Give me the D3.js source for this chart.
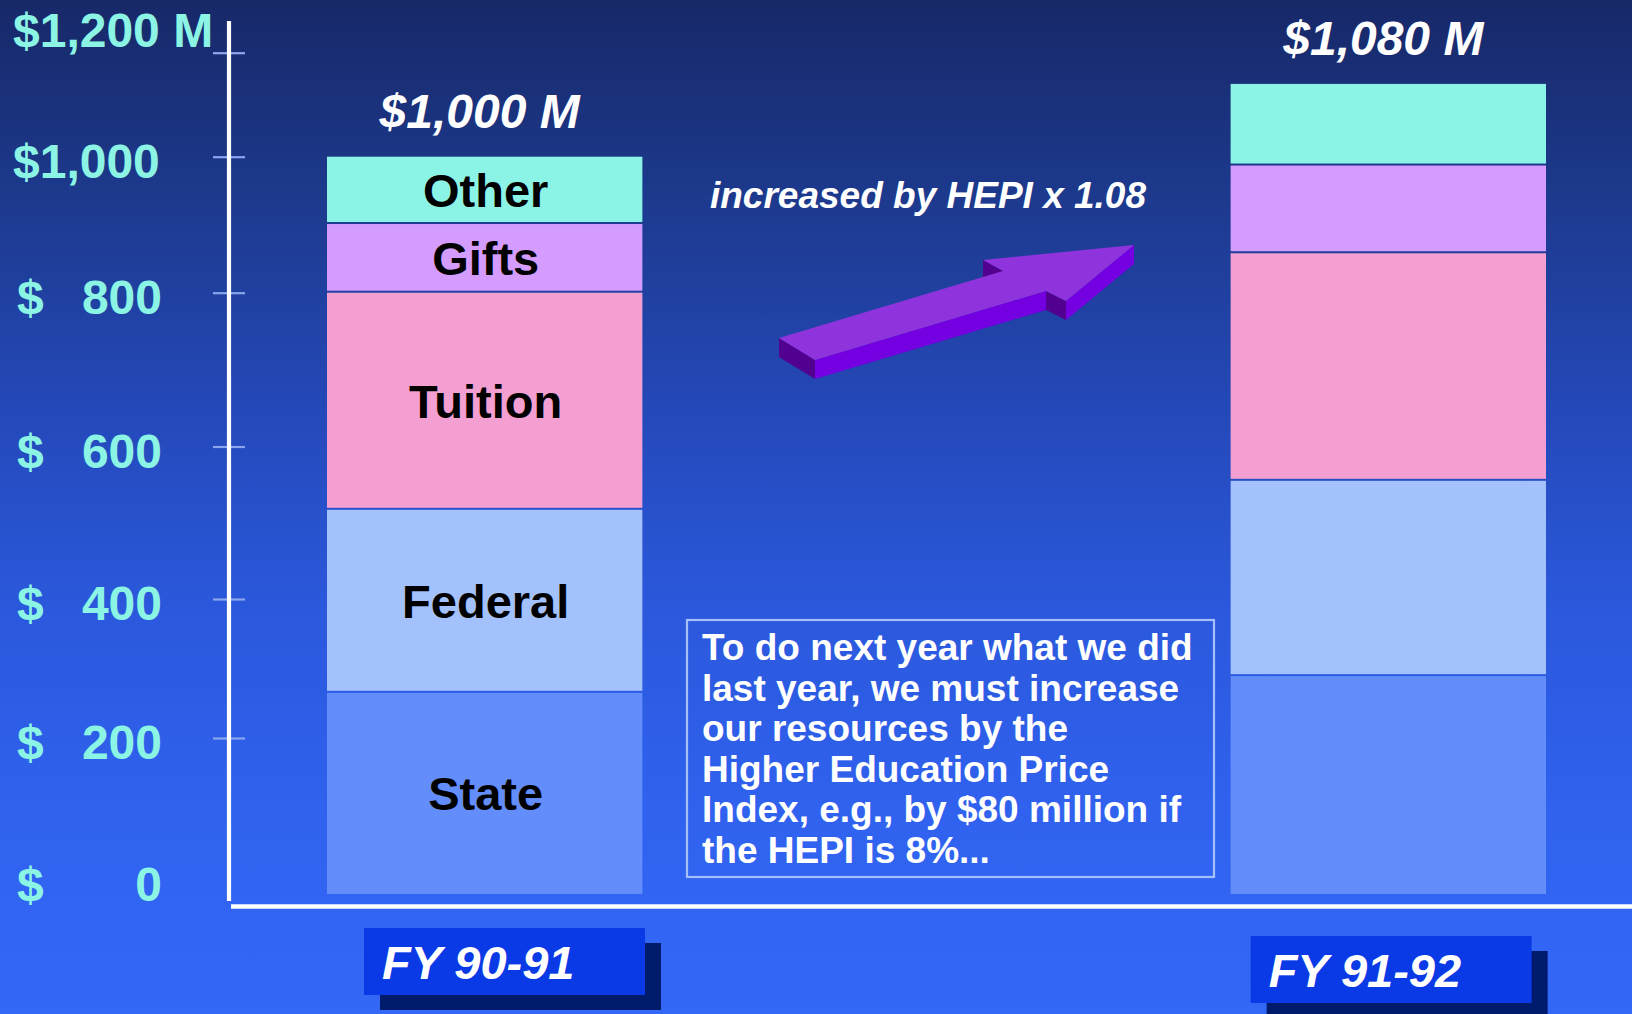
<!DOCTYPE html>
<html>
<head>
<meta charset="utf-8">
<script src="https://cdn.jsdelivr.net/npm/d3@7"></script>
<style>
  body { margin: 0; background: #172868; }
  svg { display: block; font-family: "Liberation Sans", Arial, sans-serif; }
</style>
</head>
<body>
<div id="chart"></div>
<script>
// Chart data
var years = ["FY 90-91", "FY 91-92"];
var sources = ["State", "Federal", "Tuition", "Gifts", "Other"];
var state = [265, 289];
var federal = [252, 266];
var tuition = [283, 303];
var gifts = [101, 129];
var other = [99, 153];
var totalLabels = ["$1,000 M", "$1,080 M"];
var tickValues = [0, 200, 400, 600, 800, 1000, 1200];
var tickLabels = ["0", "200", "400", "600", "800", "$1,000", "$1,200 M"];
var arrowText = "increased by HEPI x 1.08";
var noteLines = [
  "To do next year what we did",
  "last year, we must increase",
  "our resources by the",
  "Higher Education Price",
  "Index, e.g., by $80 million if",
  "the HEPI is 8%..."
];

var svgWidth = 1632;
var svgHeight = 1014;

var colors = {
  State: "#638dfa",
  Federal: "#a3c1fd",
  Tuition: "#f39fd1",
  Gifts: "#d49cfe",
  Other: "#8cf4e7"
};

var svg = d3
  .select("#chart")
  .append("svg")
  .attr("width", svgWidth)
  .attr("height", svgHeight);

// background gradient
var grad = svg
  .append("defs")
  .append("linearGradient")
  .attr("id", "bg")
  .attr("x1", 0).attr("y1", 0)
  .attr("x2", 0).attr("y2", 1);
[["0%", "#172868"], ["20%", "#1d3a8e"], ["40%", "#2448b8"], ["60%", "#2b58dc"], ["80%", "#3062ef"], ["100%", "#3367f6"]]
  .forEach(function(s) {
    grad.append("stop").attr("offset", s[0]).attr("stop-color", s[1]);
  });
svg.append("rect")
  .attr("width", svgWidth)
  .attr("height", svgHeight)
  .attr("fill", "url(#bg)");

// the slide's axis is hand spaced, so the scale is piecewise
var yScale = d3
  .scaleLinear()
  .domain(tickValues)
  .range([894, 738, 599, 446.5, 292.7, 156.7, 52.7]);

var xScale = d3
  .scaleBand()
  .domain(years)
  .range([327, 1546])
  .paddingInner(0.651);

var axisX = 229;

// stacked data
var rows = years.map(function(yr, i) {
  return { year: yr, State: state[i], Federal: federal[i], Tuition: tuition[i], Gifts: gifts[i], Other: other[i] };
});
var stacked = d3.stack().keys(sources)(rows);

// ticks (both sides of the axis line)
var tickGroupL = svg
  .append("g")
  .attr("transform", `translate(${axisX},0)`)
  .call(d3.axisLeft(yScale).tickValues(tickValues.slice(1)).tickSize(16).tickFormat(""));
var tickGroupR = svg
  .append("g")
  .attr("transform", `translate(${axisX},0)`)
  .call(d3.axisRight(yScale).tickValues(tickValues.slice(1)).tickSize(16).tickFormat(""));
[tickGroupL, tickGroupR].forEach(function(g) {
  g.select(".domain").remove();
  g.selectAll("line").attr("stroke", "#8ba6ef").attr("stroke-width", 2.2);
});

// axis lines
svg.append("line")
  .attr("x1", axisX).attr("x2", axisX)
  .attr("y1", 21).attr("y2", 901)
  .attr("stroke", "white").attr("stroke-width", 4.2);
svg.append("line")
  .attr("x1", 231).attr("x2", svgWidth)
  .attr("y1", 906.5).attr("y2", 906.5)
  .attr("stroke", "white").attr("stroke-width", 4.5);

// y labels
var labelColor = "#8cf4e4";
tickValues.forEach(function(v, i) {
  var dy = v === 1200 ? -6 : (v === 0 ? 7 : 21);
  if (v >= 1000) {
    svg.append("text")
      .attr("x", 13)
      .attr("y", yScale(v) + dy)
      .attr("fill", labelColor)
      .attr("font-size", 48)
      .attr("font-weight", "bold")
      .text(tickLabels[i]);
  } else {
    svg.append("text")
      .attr("x", 17)
      .attr("y", yScale(v) + dy)
      .attr("fill", labelColor)
      .attr("font-size", 48)
      .attr("font-weight", "bold")
      .text("$");
    svg.append("text")
      .attr("x", 162)
      .attr("y", yScale(v) + dy)
      .attr("text-anchor", "end")
      .attr("fill", labelColor)
      .attr("font-size", 48)
      .attr("font-weight", "bold")
      .text(tickLabels[i]);
  }
});

// bars
var layers = svg
  .selectAll(".layer")
  .data(stacked)
  .enter()
  .append("g")
  .attr("class", "layer")
  .attr("fill", d => colors[d.key]);

layers
  .selectAll("rect")
  .data(d => d)
  .enter()
  .append("rect")
  .attr("x", d => xScale(d.data.year))
  .attr("width", xScale.bandwidth())
  .attr("y", d => yScale(d[1]))
  .attr("height", d => Math.max(0, yScale(d[0]) - yScale(d[1]) - (d[0] > 0 ? 2 : 0)));

// segment names on the first bar
stacked.forEach(function(layer) {
  var d = layer[0];
  svg.append("text")
    .attr("x", xScale(years[0]) + xScale.bandwidth() / 2 + 1)
    .attr("y", (yScale(d[0]) + yScale(d[1])) / 2)
    .attr("dominant-baseline", "central")
    .attr("text-anchor", "middle")
    .attr("font-size", 47)
    .attr("font-weight", "bold")
    .attr("fill", "black")
    .text(layer.key);
});

// totals
var topLayer = stacked[stacked.length - 1];
years.forEach(function(yr, i) {
  svg.append("text")
    .attr("x", xScale(yr) + xScale.bandwidth() / 2 - 5)
    .attr("y", yScale(topLayer[i][1]) - 29)
    .attr("text-anchor", "middle")
    .attr("font-size", 48)
    .attr("font-weight", "bold")
    .attr("font-style", "italic")
    .attr("fill", "white")
    .text(totalLabels[i]);
});

// FY boxes with drop shadow
var boxShift = [37, 20];
var boxTop = [928, 936];
years.forEach(function(yr, i) {
  var bx = xScale(yr) + boxShift[i];
  var by = boxTop[i];
  svg.append("rect")
    .attr("x", bx + 16).attr("y", by + 15)
    .attr("width", 281).attr("height", 67)
    .attr("fill", "#011b6c");
  svg.append("rect")
    .attr("x", bx).attr("y", by)
    .attr("width", 281).attr("height", 67)
    .attr("fill", "#0a39e6");
  svg.append("text")
    .attr("x", bx + 18)
    .attr("y", by + 51)
    .attr("font-size", 47)
    .attr("font-weight", "bold")
    .attr("font-style", "italic")
    .attr("fill", "white")
    .text(yr);
});

// 3D arrow
var depth = 19;
var topFace = [[779, 338], [815, 360], [1046, 291], [1066, 301], [1134, 245], [983, 260], [1003, 271]];
function side(a, b, color) {
  var pts = [a, b, [b[0], b[1] + depth], [a[0], a[1] + depth]];
  svg.append("polygon")
    .attr("points", pts.map(p => p.join(",")).join(" "))
    .attr("fill", color);
}
side(topFace[5], topFace[6], "#52008f");
side(topFace[0], topFace[1], "#52008f");
side(topFace[1], topFace[2], "#7400e2");
side(topFace[2], topFace[3], "#52008f");
side(topFace[3], topFace[4], "#7400e2");
svg.append("polygon")
  .attr("points", topFace.map(p => p.join(",")).join(" "))
  .attr("fill", "#8f34dd");

svg.append("text")
  .attr("x", 928)
  .attr("y", 208)
  .attr("text-anchor", "middle")
  .attr("font-size", 37)
  .attr("font-weight", "bold")
  .attr("font-style", "italic")
  .attr("fill", "white")
  .text(arrowText);

// note box
svg.append("rect")
  .attr("x", 687).attr("y", 620)
  .attr("width", 527).attr("height", 257)
  .attr("fill", "none")
  .attr("stroke", "#a5bffa")
  .attr("stroke-width", 2.2);

svg.append("g")
  .selectAll("text")
  .data(noteLines)
  .enter()
  .append("text")
  .attr("x", 702)
  .attr("y", (d, i) => 660 + i * 40.6)
  .attr("font-size", 37)
  .attr("font-weight", "bold")
  .attr("fill", "white")
  .text(d => d);
</script>
</body>
</html>
